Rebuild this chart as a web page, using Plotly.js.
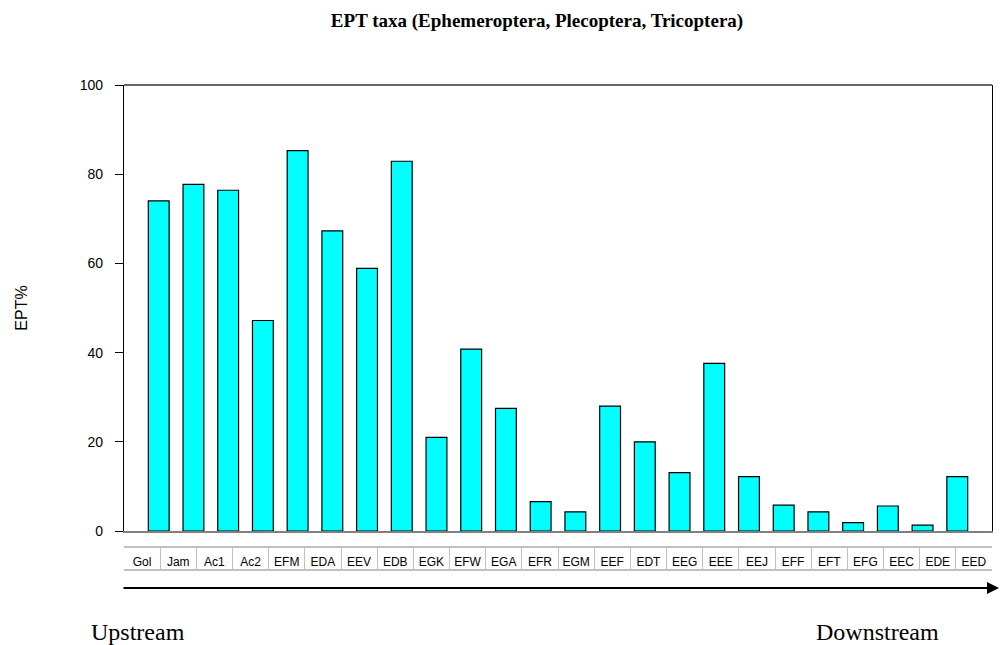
<!DOCTYPE html>
<html>
<head>
<meta charset="utf-8">
<script src="https://cdn.plot.ly/plotly-3.0.1.min.js"></script>
<style>html,body{margin:0;padding:0;background:#fff;}#chart{width:1000px;height:645px;}</style>
</head>
<body>
<div id="chart"></div>
<script>
const sites = ["Gol","Jam","Ac1","Ac2","EFM","EDA","EEV","EDB","EGK","EFW","EGA","EFR","EGM","EEF","EDT","EEG","EEE","EEJ","EFF","EFT","EFG","EEC","EDE","EED"];
const eptPercent = [74.0,77.7,76.4,47.2,85.3,67.3,58.9,82.9,21.0,40.8,27.5,6.6,4.3,28.0,20.0,13.1,37.6,12.2,5.8,4.3,1.9,5.6,1.3,12.2];
const yTicks = [0,20,40,60,80,100];
const titleText = "EPT taxa (Ephemeroptera, Plecoptera, Tricoptera)";
const yTitle = "EPT%";
const leftLabel = "Upstream";
const rightLabel = "Downstream";

const bars = {
  type: "bar",
  x: sites,
  y: eptPercent,
  width: 0.6,
  marker: {color: "#00FFFF", line: {color: "#000000", width: 1.2}},
  hoverinfo: "x+y",
  showlegend: false
};
// invisible traces registering categories on the table axes
const tableSep = {type: "scatter", mode: "markers", x: sites, y: eptPercent, xaxis: "x2", yaxis: "y",
  marker: {opacity: 0}, hoverinfo: "skip", showlegend: false};
const tableLab = {type: "scatter", mode: "markers", x: sites, y: eptPercent, xaxis: "x3", yaxis: "y",
  marker: {opacity: 0}, hoverinfo: "skip", showlegend: false};

const paperH = 645 - 85;
const py = px => (645 - px) / paperH;
const pxX = px => (px - 124) / 868;

const layout = {
  width: 1000, height: 645,
  margin: {l: 124, r: 8, t: 85, b: 0, pad: 0},
  paper_bgcolor: "#ffffff", plot_bgcolor: "#ffffff",
  title: {text: "<b>" + titleText + "</b>", font: {family: "Liberation Serif, Times New Roman, serif", size: 19, color: "#000"},
          x: pxX(537), xref: "paper", xanchor: "center", y: 0.969, yref: "container", yanchor: "middle"},
  xaxis: {type: "category", range: [-1, 24], showticklabels: false, ticks: "", showgrid: false,
          showline: true, linecolor: "#808080", linewidth: 1.5, zeroline: false, fixedrange: true},
  xaxis2: {type: "category", overlaying: "x", anchor: "free", position: py(570), domain: [0.001, 0.995],
           range: [-0.5, 23.5], tickson: "boundaries", ticks: "inside", ticklen: 23, tickcolor: "#c0c0c0", tickwidth: 1,
           showticklabels: false, showline: true, linecolor: "#c0c0c0", linewidth: 1.5, showgrid: false, zeroline: false},
  xaxis3: {type: "category", overlaying: "x", anchor: "free", position: py(547), domain: [0.001, 0.995],
           range: [-0.5, 23.5], ticks: "", showticklabels: true, ticklabelstandoff: 4,
           tickfont: {family: "Liberation Sans, Arial, sans-serif", size: 12, color: "#000"},
           showline: true, linecolor: "#c0c0c0", linewidth: 1.5, showgrid: false, zeroline: false},
  yaxis: {domain: [py(531), 1], range: [0, 100], tickvals: yTicks, ticks: "outside", ticklen: 8, tickcolor: "#000",
          ticklabelstandoff: 9,
          tickfont: {family: "Liberation Sans, Arial, sans-serif", size: 14, color: "#000"},
          showline: true, linecolor: "#000", linewidth: 1.2, mirror: true, showgrid: false, zeroline: false,
          title: {text: yTitle, font: {family: "Liberation Sans, Arial, sans-serif", size: 16, color: "#000"}, standoff: 48},
          automargin: false, fixedrange: true},
  shapes: [
    {type: "line", xref: "x domain", yref: "y domain", x0: 0, x1: 1, y0: 1, y1: 1, line: {color: "#333", width: 1.5}}
  ],
  annotations: [
    {xref: "paper", yref: "paper", x: pxX(1000), y: py(588), axref: "pixel", ayref: "pixel", ax: -878, ay: 0,
     showarrow: true, arrowhead: 2, arrowsize: 1.2, arrowwidth: 2, arrowcolor: "#000", text: ""},
    {xref: "paper", yref: "paper", x: pxX(138), y: py(632), text: leftLabel, showarrow: false,
     xanchor: "center", yanchor: "middle", font: {family: "Liberation Serif, Times New Roman, serif", size: 24, color: "#000"}},
    {xref: "paper", yref: "paper", x: pxX(877), y: py(632), text: rightLabel, showarrow: false,
     xanchor: "center", yanchor: "middle", font: {family: "Liberation Serif, Times New Roman, serif", size: 24, color: "#000"}}
  ],
  bargap: 0.4,
  showlegend: false
};

Plotly.newPlot("chart", [bars, tableSep, tableLab], layout, {displayModeBar: false, staticPlot: false});
</script>
</body>
</html>
